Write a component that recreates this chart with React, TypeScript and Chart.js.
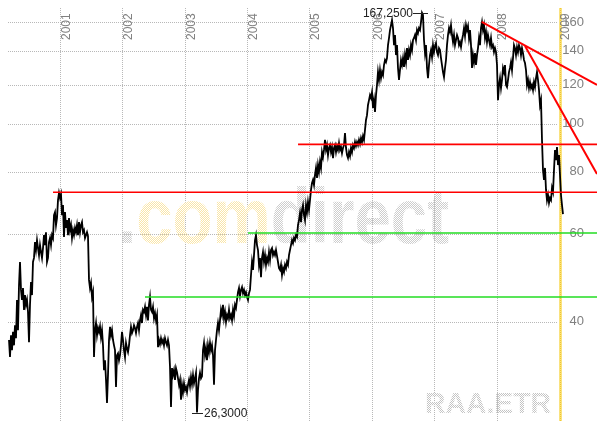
import { useEffect, useRef } from 'react';
import { Chart, registerables } from 'chart.js';

Chart.register(...registerables);

// ---- data (RAA.ETR, log price scale) ----
const seriesStart = 2000.1821; // decimal year of the first sample
const seriesStep = 0.016036; // years between samples (~6 days)
const prices: number[] = [
  36.8, 34.0, 37.6, 35.1, 38.2, 35.9, 39.4, 37.1, 44.3, 38.5,
  47.4, 52.8, 46.4, 44.3, 46.8, 42.3, 45.3, 43.3, 44.3, 41.9,
  36.4, 43.3, 48.1, 45.3, 52.8, 53.8, 57.9, 55.8, 58.4, 56.3,
  54.5, 57.1, 55.3, 53.8, 56.3, 59.8, 57.1, 60.6, 52.8, 53.8,
  57.9, 59.0, 57.1, 59.8, 59.0, 65.6, 66.5, 62.6, 64.7, 70.3,
  72.7, 71.0, 72.3, 65.6, 68.7, 59.3, 66.5, 61.8, 64.1, 59.8,
  64.7, 61.2, 62.6, 59.0, 61.2, 59.8, 61.8, 60.6, 62.6, 59.8,
  63.5, 60.6, 62.6, 63.5, 60.6, 61.2, 59.0, 59.8, 60.6, 59.5,
  48.6, 46.8, 47.9, 44.9, 45.9, 34.0, 38.5, 39.8, 37.6, 38.9,
  38.2, 39.2, 37.3, 38.5, 35.9, 32.0, 33.5, 30.6, 27.5, 31.3,
  36.8, 39.1, 37.6, 38.5, 36.8, 35.9, 35.1, 29.6, 34.3, 34.6,
  33.5, 34.3, 35.9, 38.2, 36.8, 35.1, 34.0, 36.3, 35.4, 34.8,
  35.9, 37.6, 39.1, 38.0, 38.5, 39.4, 38.9, 38.0, 39.1, 39.8,
  38.5, 40.3, 41.3, 39.8, 42.3, 41.9, 42.9, 41.3, 42.9, 40.3,
  43.3, 44.9, 42.3, 41.9, 42.9, 40.7, 41.7, 40.3, 41.3, 35.6,
  36.8, 36.1, 37.1, 36.3, 36.8, 35.9, 37.1, 36.4, 35.9, 36.8,
  35.9, 32.5, 27.0, 32.3, 31.3, 32.0, 30.6, 32.3, 31.7, 30.8,
  29.9, 30.6, 27.9, 29.9, 28.9, 30.1, 29.2, 29.6, 28.9, 29.9,
  30.6, 29.7, 31.0, 30.0, 31.3, 30.1, 30.8, 31.6, 26.3, 29.2,
  30.8, 31.6, 30.8, 31.1, 35.1, 36.3, 34.3, 35.4, 33.5, 35.9,
  34.8, 36.3, 35.1, 35.9, 34.3, 29.9, 35.1, 36.8, 38.5, 39.8,
  38.5, 40.3, 42.3, 41.3, 43.3, 40.7, 41.9, 40.0, 41.3, 40.7,
  42.3, 40.7, 41.3, 40.3, 42.3, 41.1, 43.3, 42.7, 44.3, 45.9,
  46.8, 45.1, 46.4, 47.0, 45.7, 46.4, 45.3, 45.9, 44.9, 44.3,
  45.7, 46.4, 49.7, 52.8, 50.9, 54.5, 58.4, 59.8, 57.1, 55.8,
  52.1, 53.8, 49.2, 53.8, 55.3, 52.8, 54.5, 52.1, 53.8, 52.8,
  55.3, 53.3, 55.8, 56.3, 54.5, 55.3, 54.5, 55.8, 54.3, 52.8,
  51.3, 50.9, 52.1, 49.7, 51.3, 50.4, 52.1, 51.3, 52.8, 52.1,
  54.5, 55.8, 57.1, 58.4, 57.6, 59.0, 58.4, 59.8, 59.3, 62.6,
  64.1, 66.2, 63.5, 67.2, 68.7, 65.6, 64.1, 68.7, 66.5, 69.7,
  67.2, 70.3, 73.7, 76.1, 77.2, 75.4, 79.0, 81.6, 77.9, 82.7,
  80.1, 83.9, 81.6, 87.8, 85.8, 88.7, 92.9, 88.7, 90.7, 86.6,
  89.5, 90.7, 87.8, 89.9, 85.4, 89.5, 90.7, 87.8, 90.3, 88.7,
  91.6, 88.7, 89.9, 87.4, 89.5, 90.7, 95.9, 89.5, 86.6, 85.4,
  87.8, 86.2, 89.5, 87.8, 90.7, 89.5, 92.0, 90.3, 92.0, 90.7,
  92.9, 91.2, 93.7, 92.0, 94.6, 92.9, 97.3, 101.9, 104.2, 109.2,
  111.7, 114.3, 112.8, 115.9, 107.7, 111.7, 105.7, 114.3, 119.8, 127.2,
  122.6, 128.4, 123.7, 127.2, 125.4, 131.4, 134.5, 133.2, 135.7, 144.1,
  148.9, 154.5, 158.1, 161.8, 155.9, 144.1, 151.0, 137.6, 144.1, 129.6,
  122.6, 128.4, 134.5, 131.4, 135.7, 130.2, 137.6, 133.2, 142.1, 134.5,
  140.8, 137.6, 144.1, 140.8, 147.5, 148.9, 151.0, 147.5, 154.5, 152.4,
  155.9, 154.5, 160.3, 167.25, 165.6, 147.5, 138.9, 144.1, 129.6, 123.7,
  131.4, 137.6, 140.8, 136.3, 144.1, 139.5, 143.5, 145.5, 139.5, 137.6,
  142.1, 140.8, 135.7, 131.4, 127.2, 124.3, 129.6, 134.5, 144.1, 151.0,
  155.9, 153.1, 158.1, 151.0, 146.1, 151.0, 144.1, 147.5, 151.0, 148.9,
  144.1, 146.1, 142.8, 147.5, 151.0, 155.9, 150.3, 158.1, 154.5, 157.4,
  148.9, 154.5, 144.1, 129.6, 137.6, 133.2, 138.9, 131.4, 137.6, 142.1,
  148.9, 144.1, 155.9, 160.3, 154.5, 158.1, 148.9, 153.1, 146.1, 151.0,
  147.5, 144.1, 148.9, 142.8, 144.1, 139.5, 142.1, 139.5, 131.4, 111.7,
  119.8, 123.7, 118.1, 122.6, 129.6, 127.2, 131.4, 119.8, 118.7, 122.6,
  127.2, 129.6, 133.2, 128.4, 135.7, 144.1, 142.1, 137.6, 142.8, 139.5,
  144.1, 142.1, 137.6, 142.1, 138.9, 134.5, 132.6, 128.4, 119.8, 122.6,
  118.1, 121.4, 118.1, 119.8, 117.0, 121.4, 118.7, 123.7, 127.2, 122.6,
  117.0, 109.2, 111.7, 92.9, 80.8, 77.2, 81.6, 73.7, 70.3, 72.0,
  69.4, 71.0, 70.3, 74.4, 73.0, 80.8, 88.7, 84.6, 89.9, 82.7,
  86.6, 79.0, 72.0, 68.7, 65.9,
];

const yearTicks = [2001, 2002, 2003, 2004, 2005, 2006, 2007, 2008, 2009];
const priceTicks = [40, 60, 80, 100, 120, 140, 160];
const xRange = [2000.0378, 2009.6113];
const yRange = [25.29, 177.55];

const redLevels = [
  { from: 2000.888, value: 72.9 },
  { from: 2004.817, value: 91.0 },
];
const greenLevels = [
  { from: 2002.363, value: 44.9 },
  { from: 2004.015, value: 60.4 },
];
const trendLines = [
  [{ x: 2007.762, y: 160.5 }, { x: 2009.611, y: 119.8 }],
  [{ x: 2008.457, y: 143.5 }, { x: 2009.611, y: 79.3 }],
];
const symbol = 'RAA.ETR';
const watermarkParts = [
  { text: '.', tone: 'gray' },
  { text: 'com', tone: 'yellow' },
  { text: 'direct', tone: 'gray' },
];

const FONT = '"Liberation Sans", Arial, Helvetica, sans-serif';

function dotPattern(ctx: CanvasRenderingContext2D, color: string) {
  const c = document.createElement('canvas');
  c.width = 2;
  c.height = 2;
  const g = c.getContext('2d')!;
  g.fillStyle = color;
  g.fillRect(0, 0, 1, 1);
  g.fillRect(1, 1, 1, 1);
  return ctx.createPattern(c, 'repeat')!;
}

function fmt(v: number) {
  return v.toFixed(4).replace('.', ',');
}

const decor = {
  id: 'decor',
  beforeDatasetsDraw(chart: any) {
    const { ctx, chartArea, scales } = chart;
    const xs = scales.x;
    const ys = scales.y;
    ctx.save();
    // dotted grid
    ctx.strokeStyle = '#b8b8b8';
    ctx.lineWidth = 1;
    ctx.setLineDash([1, 1]);
    for (const v of priceTicks) {
      const y = Math.round(ys.getPixelForValue(v)) + 0.5;
      ctx.beginPath();
      ctx.moveTo(8, y);
      ctx.lineTo(557, y);
      ctx.stroke();
    }
    yearTicks.forEach((yr, i) => {
      const x = Math.round(xs.getPixelForValue(yr)) + 0.5;
      if (i === yearTicks.length - 1) {
        ctx.fillStyle = '#fae27e';
        ctx.fillRect(x - 0.5, 8, 3, chartArea.bottom - 8);
        ctx.strokeStyle = '#f1c832';
        ctx.beginPath();
        ctx.moveTo(x + 1, 8);
        ctx.lineTo(x + 1, chartArea.bottom);
        ctx.stroke();
        ctx.strokeStyle = '#b8b8b8';
      } else {
        ctx.beginPath();
        ctx.moveTo(x, 8);
        ctx.lineTo(x, chartArea.bottom);
        ctx.stroke();
      }
    });
    ctx.setLineDash([]);

    // watermark
    const gray = dotPattern(ctx, '#cdcdcd');
    const yellow = dotPattern(ctx, '#fae6a8');
    ctx.font = `bold 77px ${FONT}`;
    ctx.textBaseline = 'alphabetic';
    ctx.textAlign = 'left';
    const total = ctx.measureText(watermarkParts.map((p) => p.text).join('')).width;
    const sx = 331 / total;
    ctx.save();
    ctx.translate(118, 243);
    ctx.scale(sx, 1);
    let cx = 0;
    for (const p of watermarkParts) {
      const pat = p.tone === 'yellow' ? yellow : gray;
      try { pat.setTransform(new DOMMatrix([1 / sx, 0, 0, 1, 0, 0])); } catch (e) { /* ignore */ }
      ctx.fillStyle = pat;
      ctx.fillText(p.text, cx, 0);
      cx += ctx.measureText(p.text).width;
    }
    ctx.restore();

    ctx.font = `bold 29px ${FONT}`;
    const sw = ctx.measureText(symbol).width;
    const sx2 = 126 / sw;
    ctx.save();
    ctx.translate(425, 413);
    ctx.scale(sx2, 1);
    const g2 = dotPattern(ctx, '#c4c4c4');
    try { g2.setTransform(new DOMMatrix([1 / sx2, 0, 0, 1, 0, 0])); } catch (e) { /* ignore */ }
    ctx.fillStyle = g2;
    ctx.fillText(symbol, 0, 0);
    ctx.restore();

    // year labels (vertical)
    ctx.fillStyle = '#808080';
    ctx.font = `12px ${FONT}`;
    ctx.textAlign = 'left';
    ctx.textBaseline = 'middle';
    for (const yr of yearTicks) {
      const x = xs.getPixelForValue(yr);
      ctx.save();
      ctx.translate(x + 6.5, 40);
      ctx.rotate(-Math.PI / 2);
      ctx.fillText(String(yr), 0, 0);
      ctx.restore();
    }
    // price labels
    ctx.textAlign = 'right';
    ctx.font = `13px ${FONT}`;
    for (const v of priceTicks) {
      ctx.fillText(String(v), 584, ys.getPixelForValue(v) - 0.5);
    }
    ctx.restore();
  },
  afterDatasetsDraw(chart: any) {
    const { ctx, scales } = chart;
    const xs = scales.x;
    const ys = scales.y;
    let iMax = 0;
    let iMin = 0;
    prices.forEach((p, i) => {
      if (p > prices[iMax]) iMax = i;
      if (p < prices[iMin]) iMin = i;
    });
    ctx.save();
    ctx.strokeStyle = '#222';
    ctx.fillStyle = '#222';
    ctx.lineWidth = 1;
    ctx.font = `12px ${FONT}`;
    ctx.textBaseline = 'middle';
    // high
    const hx = xs.getPixelForValue(seriesStart + iMax * seriesStep);
    const hy = Math.round(ys.getPixelForValue(prices[iMax])) + 0.5;
    ctx.beginPath();
    ctx.moveTo(hx - 9, hy);
    ctx.lineTo(hx + 6, hy);
    ctx.stroke();
    ctx.textAlign = 'right';
    ctx.fillText(fmt(prices[iMax]), hx - 9, hy + 0.5);
    // low
    const lx = xs.getPixelForValue(seriesStart + iMin * seriesStep);
    const ly = Math.round(ys.getPixelForValue(prices[iMin])) + 0.5;
    ctx.beginPath();
    ctx.moveTo(lx - 5, ly);
    ctx.lineTo(lx + 6, ly);
    ctx.stroke();
    ctx.textAlign = 'left';
    ctx.fillText(fmt(prices[iMin]), lx + 7, ly + 0.5);
    ctx.restore();
  },
};

export default function App() {
  const ref = useRef<HTMLCanvasElement>(null);
  useEffect(() => {
    document.body.style.margin = '0';
    const levelSet = (lv: { from: number; value: number }, color: string, width: number) => ({
      data: [
        { x: lv.from, y: lv.value },
        { x: xRange[1], y: lv.value },
      ],
      borderColor: color,
      borderWidth: width,
      pointRadius: 0,
      order: 1,
    });
    const chart = new Chart(ref.current!, {
      type: 'line',
      data: {
        datasets: [
          {
            data: prices.map((p, i) => ({ x: seriesStart + i * seriesStep, y: p })),
            borderColor: '#000',
            borderWidth: 1.8,
            pointRadius: 0,
            tension: 0,
            order: 3,
          },
          ...greenLevels.map((lv) => levelSet(lv, '#22dd22', 1.5)),
          ...redLevels.map((lv) => levelSet(lv, '#ff0000', 1.6)),
          ...trendLines.map((seg) => ({
            data: seg,
            borderColor: '#ff0000',
            borderWidth: 2,
            pointRadius: 0,
            order: 1,
          })),
        ],
      } as any,
      options: {
        animation: false,
        responsive: false,
        devicePixelRatio: 1,
        layout: { padding: 0 },
        plugins: { legend: { display: false }, tooltip: { enabled: false } },
        scales: {
          x: { type: 'linear', display: false, min: xRange[0], max: xRange[1], bounds: 'data' },
          y: { type: 'logarithmic', display: false, min: yRange[0], max: yRange[1], bounds: 'data' },
        },
      } as any,
      plugins: [decor],
    });
    return () => chart.destroy();
  }, []);
  return (
    <div style={{ width: 597, height: 421 }}>
      <canvas ref={ref} width={597} height={421} style={{ display: 'block' }} />
    </div>
  );
}
